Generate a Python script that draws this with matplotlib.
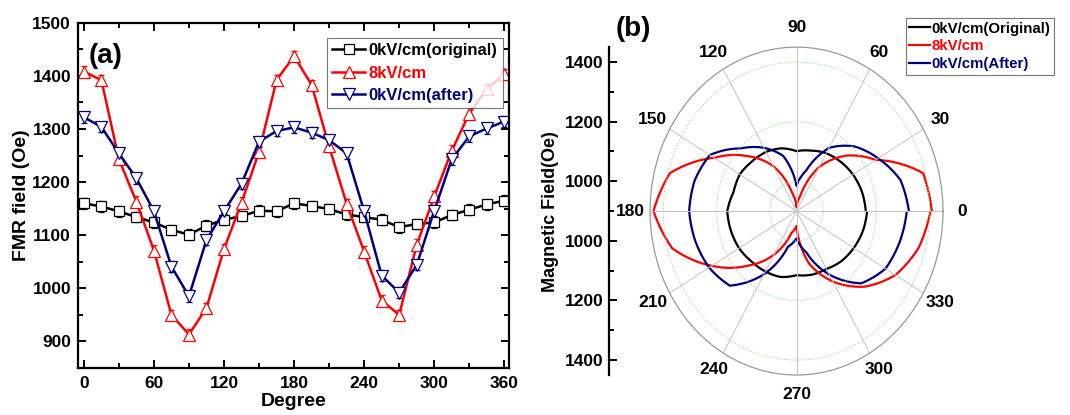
import numpy as np
import matplotlib.pyplot as plt
from matplotlib.ticker import MultipleLocator
from matplotlib.lines import Line2D
from matplotlib.path import Path
from matplotlib.patches import PathPatch

plt.rcParams['font.family'] = ['Liberation Sans', 'DejaVu Sans']
plt.rcParams['font.weight'] = 'bold'

# angle (degree), 15 degree steps
angle = [0, 15, 30, 45, 60, 75, 90, 105, 120, 135, 150, 165, 180,
         195, 210, 225, 240, 255, 270, 285, 300, 315, 330, 345, 360]

# FMR field (Oe)
original = [1160, 1154, 1145, 1134, 1124, 1110, 1101, 1118, 1129, 1136, 1146, 1145, 1160,
            1155, 1149, 1139, 1134, 1129, 1115, 1121, 1124, 1138, 1148, 1158, 1165]
field_8kv = [1408, 1392, 1243, 1163, 1071, 950, 913, 963, 1074, 1161, 1257, 1392, 1437,
             1383, 1267, 1159, 1069, 977, 950, 1082, 1173, 1259, 1329, 1375, 1403]
after = [1322, 1304, 1254, 1207, 1145, 1041, 985, 1091, 1145, 1197, 1276, 1296, 1303,
         1293, 1279, 1254, 1145, 1024, 992, 1044, 1146, 1243, 1286, 1301, 1314]
err = [10] * len(angle)

RED = '#ff0000'
NAVY = '#00007f'

fig = plt.figure(figsize=(10.7, 4.15), dpi=100)

# ---------------- (a) ----------------
ax = fig.add_axes([0.0729, 0.1133, 0.4028, 0.832])
series = [(original, 'k', 's', '0kV/cm(original)', 7),
          (field_8kv, RED, '^', '8kV/cm', 8.5),
          (after, NAVY, 'v', '0kV/cm(after)', 8.5)]
handles_a = []
for vals, c, m, lab, ms in series:
    ax.errorbar(angle, vals, yerr=err, color=c, lw=1.8, marker=m, ms=ms,
                mfc='white', mec=c, mew=0.9, ecolor=c, elinewidth=0.5,
                capsize=2, capthick=0.5)
    handles_a.append(Line2D([], [], color=c, lw=1.8, marker=m, ms=ms,
                            mfc='white', mec=c, mew=0.9, label=lab))

ax.set_xlim(-5, 364)
ax.set_ylim(850, 1500)
ax.xaxis.set_major_locator(MultipleLocator(60))
ax.xaxis.set_minor_locator(MultipleLocator(30))
ax.yaxis.set_major_locator(MultipleLocator(100))
ax.yaxis.set_minor_locator(MultipleLocator(50))
ax.tick_params(which='both', direction='in', top=True, right=True, width=1.4,
               labelsize=12.5, pad=5)
ax.tick_params(which='major', length=6)
ax.tick_params(which='minor', length=3.5)
ax.tick_params(axis='x', pad=6)
for s in ax.spines.values():
    s.set_linewidth(1.6)
ax.set_xlabel('Degree', fontsize=14, fontweight='bold', labelpad=1.5)
ax.set_ylabel('FMR field (Oe)', fontsize=14, fontweight='bold', labelpad=2)
ax.text(0.025, 0.94, '(a)', transform=ax.transAxes, fontsize=20,
        fontweight='bold', va='top')

leg = ax.legend(handles=handles_a, loc='upper right', bbox_to_anchor=(0.993, 0.965),
                fontsize=12, frameon=True, fancybox=False, edgecolor='#555555',
                borderpad=0.3, labelspacing=0.45, handlelength=2.0,
                handletextpad=0.2, borderaxespad=0.2)
leg.get_frame().set_linewidth(0.8)
for t, (_, c, _, _, _) in zip(leg.get_texts(), series):
    t.set_color(c)

# ---------------- (b) ----------------
r0, r1 = 900, 1450
pax = fig.add_axes([0.6075, 0.0964, 0.2738, 0.790], projection='polar')
pax.set_aspect('auto')
theta = np.deg2rad(angle)
lines_b = [(original, 'k', '0kV/cm(Original)'),
           (field_8kv, RED, '8kV/cm'),
           (after, NAVY, '0kV/cm(After)')]
handles_b = []
for vals, c, lab in lines_b:
    # polar transform draws each segment as an arc between the points
    p = Path(np.column_stack([theta, vals]), _interpolation_steps=30)
    pax.add_patch(PathPatch(p, fill=False, ec=c, lw=1.6, joinstyle='round'))
    handles_b.append(Line2D([], [], color=c, lw=1.6, label=lab))

pax.set_rlim(r0, r1)
pax.set_rgrids([1000, 1200, 1400], labels=[])
pax.yaxis.grid(True, color='#9ee09e', lw=0.7, ls=(0, (1.5, 1.5)))
pax.set_thetagrids(np.arange(0, 360, 30),
                   labels=[str(a) for a in range(0, 360, 30)])
pax.xaxis.grid(True, color='#c4c4c4', lw=0.7)
pax.set_xticks(np.deg2rad(np.arange(15, 360, 30)), minor=True)
pax.tick_params(axis='x', which='both', direction='in', color='#888888',
                labelsize=12.5, pad=7)
pax.tick_params(axis='x', which='major', length=0)
pax.tick_params(axis='x', which='minor', length=4, width=0.7)
pax.spines['polar'].set_color('#999999')
pax.spines['polar'].set_linewidth(0.9)

# vertical radial scale on the left
sax = fig.add_axes([0.569, 0.0964, 0.001, 0.790])
sax.set_ylim(-(r1 - r0), r1 - r0)
sax.set_xticks([])
for side in ['top', 'bottom', 'right']:
    sax.spines[side].set_visible(False)
sax.spines['left'].set_linewidth(1.6)
scale_ticks = [-500, -300, -100, 100, 300, 500]
sax.set_yticks(scale_ticks)
sax.set_yticklabels([str(r0 + abs(v)) for v in scale_ticks])
sax.set_yticks([-400, -200, 0, 200, 400], minor=True)
sax.tick_params(axis='y', which='both', direction='in', width=1.4,
                labelsize=12.5, pad=4)
sax.tick_params(axis='y', which='major', length=6)
sax.tick_params(axis='y', which='minor', length=3.5)
sax.set_ylabel('Magnetic Field(Oe)', fontsize=13, fontweight='bold', labelpad=4)

fig.text(0.575, 0.93, '(b)', fontsize=20, fontweight='bold', va='center')

legb = fig.legend(handles=handles_b, loc='upper right', bbox_to_anchor=(0.9925, 0.975),
                  fontsize=10.8, frameon=True, fancybox=False, edgecolor='#555555',
                  borderpad=0.25, labelspacing=0.25, handlelength=1.4,
                  handletextpad=0.1)
legb.get_frame().set_linewidth(0.8)
for t, (_, c, _) in zip(legb.get_texts(), lines_b):
    t.set_color(c)

plt.savefig('out.png', dpi=100)
